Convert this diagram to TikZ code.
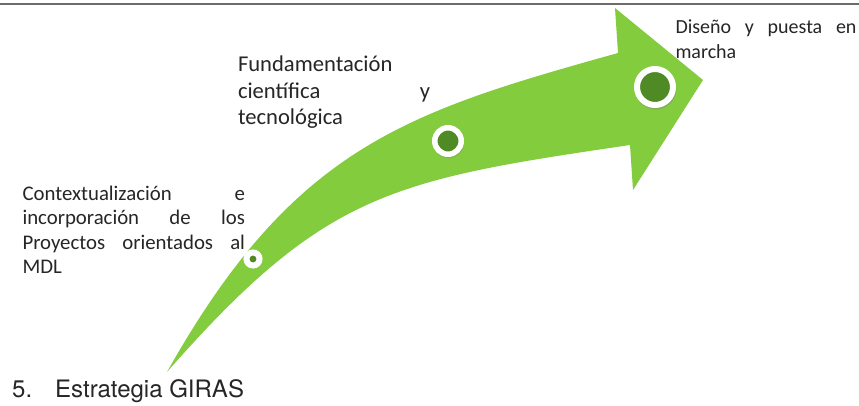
\documentclass[tikz,border=0pt]{standalone}
\usepackage{fontspec}
\setmainfont{Carlito}
\newfontfamily\helvfont{TeX Gyre Heros}
\usetikzlibrary{shadows}

\begin{document}
\tolerance=10000
\hbadness=10000
\begin{tikzpicture}[x=1pt,y=1pt]
\definecolor[named]{fillColor}{rgb}{1.00,1.00,1.00}
\path[use as bounding box,fill=fillColor] (0,0) rectangle (859,405);
\definecolor[named]{lineColor}{rgb}{0.42,0.42,0.42}
\definecolor[named]{arrowColor}{rgb}{0.51,0.80,0.24}
\definecolor[named]{dotColor}{rgb}{0.31,0.54,0.14}
\definecolor[named]{textColor}{rgb}{0.15,0.15,0.15}
\tikzset{
  milestone/.style={circle,draw=white,fill=dotColor,inner sep=0pt,
    drop shadow={shadow xshift=0.6pt,shadow yshift=-1.6pt,shadow scale=1.15,opacity=0.35}},
  stagetext/.style={text=textColor,anchor=base west,inner sep=0pt,outer sep=0pt,align=justify}
}

% top rule
\path[draw=lineColor,line width=1.6pt] (0,401) -- (859,401);

% curved arrow
\path[fill=arrowColor] (167,33) .. controls (294,259) and (407,293) .. (618,352)
  -- (615,397) -- (703,325) -- (633,215) -- (630,260)
  .. controls (392,225) and (325,213) .. (167,33) -- cycle;

% milestones
\node[milestone,line width=6pt,minimum size=13pt] (dotA) at (253,146) {};
\node[milestone,line width=5.5pt,minimum size=26.5pt] (dotB) at (448,264) {};
\node[milestone,line width=6pt,minimum size=36pt] (dotC) at (655,318) {};

% stage texts
\node[stagetext,text width=222.5pt,font=\fontsize{20.8}{24.5}\selectfont] (stageA) at (22.5,205)
{Contextualización e\linebreak incorporación de los\linebreak Proyectos orientados al\linebreak MDL};

\node[stagetext,text width=192pt,font=\fontsize{22.6}{26.5}\selectfont] (stageB) at (238,333)
{Fundamentación\linebreak científica y\linebreak tecnológica};

\node[stagetext,text width=181pt,font=\fontsize{20}{25}\selectfont] (stageC) at (675.5,371)
{Diseño y puesta en\linebreak marcha};

% caption
\node[text=textColor,anchor=base west,inner sep=0pt,font=\helvfont\fontsize{24}{28}\selectfont] (itemnum) at (12,8) {5.};
\node[text=textColor,anchor=base west,inner sep=0pt,font=\helvfont\fontsize{24}{28}\selectfont] (caption) at (55,8) {Estrategia GIRAS};
\end{tikzpicture}
\end{document}
